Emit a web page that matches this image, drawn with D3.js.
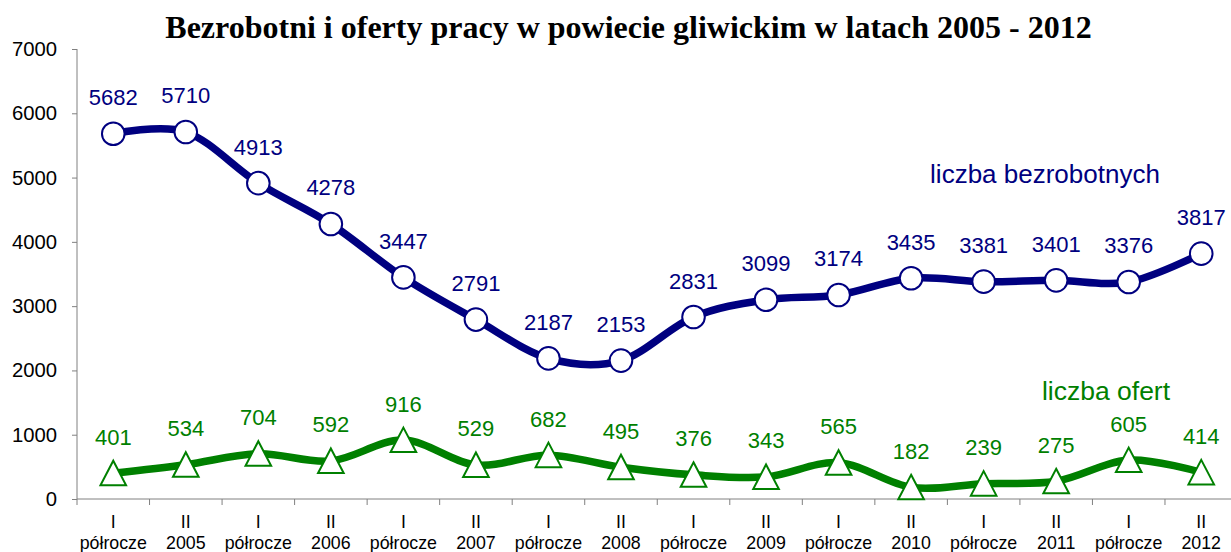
<!DOCTYPE html>
<html><head><meta charset="utf-8">
<script src="https://cdn.jsdelivr.net/npm/d3@7"></script>
<style>body{margin:0;background:#fff}svg{display:block}</style>
</head><body>
<svg id="c" width="1231" height="552"></svg>
<script>
const categories = ["I|półrocze","II|2005","I|półrocze","II|2006","I|półrocze","II|2007","I|półrocze","II|2008","I|półrocze","II|2009","I|półrocze","II|2010","I|półrocze","II|2011","I|półrocze","II|2012"];
const unemployed = [5682,5710,4913,4278,3447,2791,2187,2153,2831,3099,3174,3435,3381,3401,3376,3817];
const offers = [401,534,704,592,916,529,682,495,376,343,565,182,239,275,605,414];
const yTicks = [0,1000,2000,3000,4000,5000,6000,7000];
const title = "Bezrobotni i oferty pracy w powiecie gliwickim w latach 2005 - 2012";

const svg = d3.select("#c");
const x0 = 77, x1 = 1237.5, yTop = 49, yBot = 499;
const x = d3.scaleBand().domain(d3.range(categories.length)).range([x0, x1]).padding(0);
const y = d3.scaleLinear().domain([0,7000]).range([yBot, yTop]);
const cx = i => x(i) + x.bandwidth()/2;
const sans = "'Liberation Sans',Arial,sans-serif";

svg.append("text").attr("x", 628.5).attr("y", 38).attr("text-anchor","middle")
  .attr("font-family","'Liberation Serif','Times New Roman',serif").attr("font-weight","bold")
  .attr("font-size", 32).text(title);

// Y axis
const yAxis = d3.axisLeft(y).tickValues(yTicks).tickSize(5).tickPadding(15).tickFormat(d3.format("d"));
const gy = svg.append("g").attr("transform", `translate(${x0},0)`).call(yAxis);
gy.selectAll("text").attr("font-family",sans).attr("font-size",20.3).attr("fill","#000");
gy.selectAll("line,path").attr("stroke","#808080");
gy.select(".domain").attr("d", `M0,${yTop}V${yBot}`);

// X axis
const gx = svg.append("g").attr("transform", `translate(0,${yBot})`);
gx.append("line").attr("x1", x0).attr("x2", x1).attr("stroke","#808080");
gx.selectAll("line.t").data(d3.range(categories.length+1)).join("line").attr("class","t")
  .attr("x1", i => x0 + i*x.bandwidth()).attr("x2", i => x0 + i*x.bandwidth())
  .attr("y1",0).attr("y2",6).attr("stroke","#808080");
const xl = gx.selectAll("text.cl").data(categories).join("text").attr("class","cl")
  .attr("text-anchor","middle").attr("font-family",sans)
  .attr("font-size",17.8).attr("fill","#000");
xl.append("tspan").attr("x",(d,i)=>cx(i)).attr("y",29).text(d=>d.split("|")[0]);
xl.append("tspan").attr("x",(d,i)=>cx(i)).attr("y",49.5).text(d=>d.split("|")[1]);

const curve = d3.curveCatmullRom.alpha(0);
const line = d3.line().x((d,i)=>cx(i)).y(d=>y(d)).curve(curve);

function series(data, color, marker, labOff) {
  svg.append("path").attr("d", line(data)).attr("fill","none").attr("stroke",color)
    .attr("stroke-width",7.5).attr("stroke-linejoin","round");
  if (marker === "circle") {
    svg.selectAll(null).data(data).join("circle").attr("cx",(d,i)=>cx(i)).attr("cy",d=>y(d))
      .attr("r",11.3).attr("fill","#fff").attr("stroke",color).attr("stroke-width",2);
  } else {
    svg.selectAll(null).data(data).join("path")
      .attr("d",(d,i)=>{const px=cx(i), py=y(d); return `M${px},${py-12.5}L${px+12.8},${py+12}L${px-12.8},${py+12}Z`;})
      .attr("fill","#fff").attr("stroke",color).attr("stroke-width",2);
  }
  svg.selectAll(null).data(data).join("text").attr("x",(d,i)=>cx(i)).attr("y",d=>y(d)-labOff)
    .attr("text-anchor","middle").attr("font-family",sans)
    .attr("font-size",22).attr("fill",color).text(d=>d);
}
series(unemployed, "#000080", "circle", 28.5);
series(offers, "#008000", "triangle", 28.5);

svg.append("text").attr("x",1045).attr("y",183).attr("text-anchor","middle")
  .attr("font-family",sans).attr("font-size",26).attr("fill","#000080").text("liczba bezrobotnych");
svg.append("text").attr("x",1106).attr("y",400).attr("text-anchor","middle")
  .attr("font-family",sans).attr("font-size",26.5).attr("fill","#008000").text("liczba ofert");
</script>
</body></html>
